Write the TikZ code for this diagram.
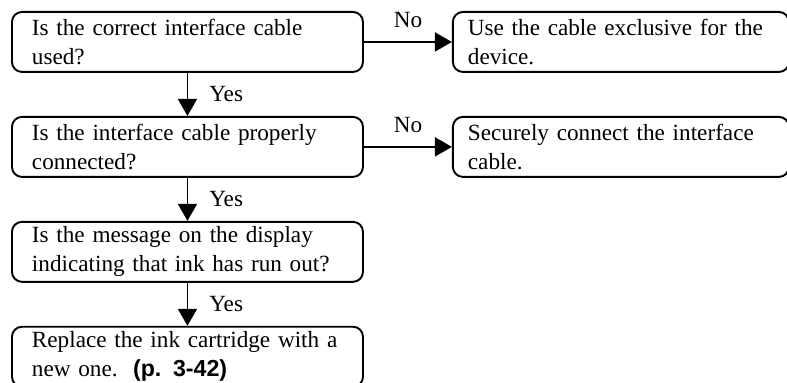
\documentclass[tikz,border=0pt]{standalone}
\usepackage{fontspec}
\setmainfont{Liberation Serif}
\setsansfont{Liberation Sans}
\usetikzlibrary{arrows.meta,positioning}

\begin{document}
\begin{tikzpicture}[node distance=0.86cm and 1.76cm, every node/.style={font=\fontsize{13.2}{16.6}\selectfont}]
\tikzset{stepbox/.style={draw, line width=1.1pt, rounded corners=0.2cm, align=left, inner xsep=0.4cm, inner ysep=0pt, text width=6.22cm, minimum height=1.2cm}}
\tikzset{fixbox/.style={stepbox, inner xsep=0.3cm, text width=6.12cm, minimum height=1.2cm}}
\tikzset{flow/.style={line width=1.1pt, -{Triangle[length=0.34cm, width=0.38cm]}}}
\useasboundingbox (0,0) rectangle (15.74,-7.66);
\node[stepbox, anchor=north west] (cable) at (0.22,-0.22) {Is the correct interface cable\\used?};
\node[stepbox, below=of cable] (conn) {Is the interface cable properly\\connected?};
\node[stepbox, below=of conn] (msg) {Is the message on the display\\indicating that ink has run out?};
\node[stepbox, below=of msg] (ink) {Replace the ink cartridge with a\\new one.\ \ {\sffamily\bfseries (p. 3-42)}};
\node[fixbox, right=of cable] (usecab) {Use the cable exclusive for the\\device.};
\node[fixbox, right=of conn] (secure) {Securely connect the interface\\cable.};
\draw[flow] (cable) -- node[right=0.3cm]{Yes} (conn);
\draw[flow] (conn) -- node[right=0.3cm]{Yes} (msg);
\draw[flow] (msg) -- node[right=0.3cm]{Yes} (ink);
\draw[flow] (cable) -- node[above=0.14cm]{No} (usecab);
\draw[flow] (conn) -- node[above=0.14cm]{No} (secure);
\end{tikzpicture}
\end{document}
